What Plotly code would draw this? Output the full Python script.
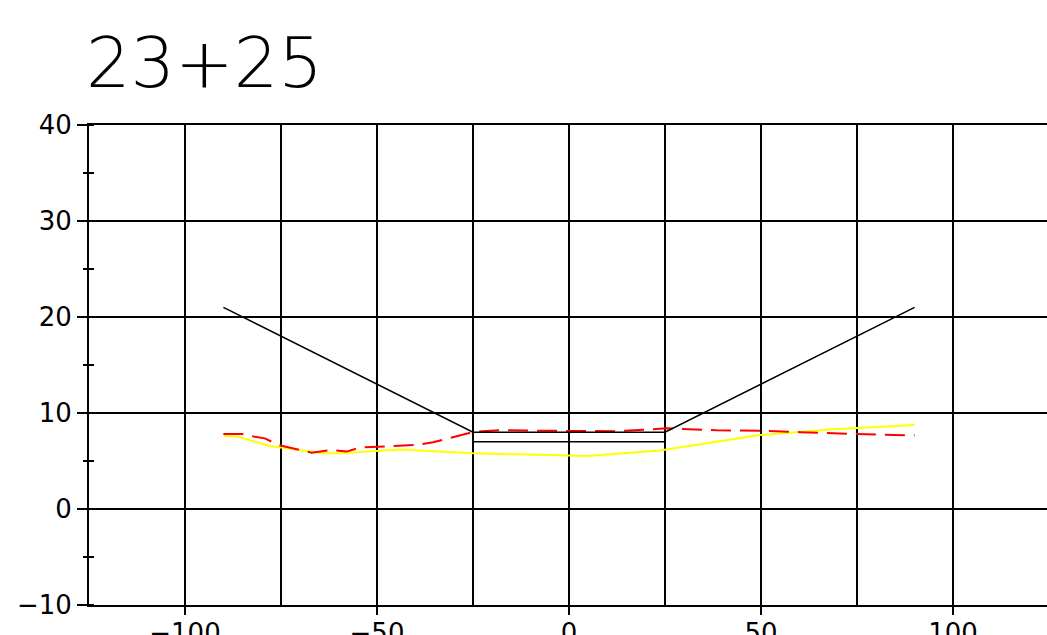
import plotly.graph_objects as go

# Design section (black)
design_x = [-90, -25, 25, 90]
design_y = [21, 8, 8, 21]
sub_x = [-25, 25]
sub_y = [7.0, 7.0]

# Red dashed surface
red_x = [-90, -85, -81.8, -79.2, -75.7, -67, -61.8, -57.9, -54.4, -47.5, -39.7, -35.4, -24.9,
         -18, -12.8, -0.6, 12.4, 25.4, 38.5, 51.5, 60.2, 68.8, 77.5, 90]
red_y = [7.8, 7.8, 7.53, 7.36, 6.67, 5.87, 6.15, 5.98, 6.4, 6.5, 6.67, 6.95, 8.03,
         8.2, 8.2, 8.13, 8.1, 8.4, 8.2, 8.13, 8.0, 7.88, 7.78, 7.67]

# Yellow surface
yel_x = [-90, -86.1, -77.9, -64, -59.6, -44, -24.9, -12.8, 4.6, 23.7, 49.7, 68.8, 90]
yel_y = [7.64, 7.53, 6.56, 5.8, 5.8, 6.2, 5.8, 5.7, 5.53, 6.1, 7.7, 8.3, 8.75]

title_text = "23+25"

fig = go.Figure()
fig.add_trace(go.Scatter(x=yel_x, y=yel_y, mode="lines",
                         line=dict(color="#ffff00", width=2), showlegend=False))
fig.add_trace(go.Scatter(x=red_x, y=red_y, mode="lines",
                         line=dict(color="#ff0000", width=2, dash="20px,9px"), showlegend=False))
fig.add_trace(go.Scatter(x=design_x, y=design_y, mode="lines",
                         line=dict(color="black", width=1.5), showlegend=False))
fig.add_trace(go.Scatter(x=sub_x, y=sub_y, mode="lines",
                         line=dict(color="black", width=1.5), showlegend=False))
# invisible trace to activate yaxis2 (minor tick crossing)
fig.add_trace(go.Scatter(x=[0], y=[0], yaxis="y2", mode="markers",
                         marker=dict(opacity=0), showlegend=False, hoverinfo="skip"))

tickfont = dict(family="DejaVu Sans", size=26, color="black")

fig.update_layout(
    width=1047, height=635,
    margin=dict(l=89, r=0, t=125, b=30),
    plot_bgcolor="white", paper_bgcolor="white",
    title=dict(text=title_text, xref="container", x=86 / 1047, xanchor="left",
               yref="container", y=1 - 38 / 635, yanchor="top",
               font=dict(family="DejaVu Sans", size=70, color="black", weight=200)),
    xaxis=dict(range=[-125, 124.48], dtick=50, tick0=0, showgrid=True,
               gridcolor="black", gridwidth=1.6, zeroline=False, automargin=False,
               showline=True, linecolor="black", linewidth=2, mirror=True,
               ticks="outside", ticklen=8, tickwidth=1.6, tickcolor="black",
               tickfont=tickfont, ticklabelstandoff=-4,
               minor=dict(dtick=25, tick0=0, showgrid=True, gridcolor="black",
                          gridwidth=1.6, ticks="")),
    yaxis=dict(range=[-10, 40], dtick=10, tick0=0, showgrid=True,
               gridcolor="black", gridwidth=1.6, zeroline=False, automargin=False,
               showline=True, linecolor="black", linewidth=2,
               ticks="outside", ticklen=10, tickwidth=1.6, tickcolor="black",
               tickfont=tickfont, ticklabelstandoff=0,
               minor=dict(dtick=5, tick0=0, ticks="inside", ticklen=5,
                          tickwidth=1.6, tickcolor="black", showgrid=False)),
    yaxis2=dict(range=[-10, 40], overlaying="y", side="left", anchor="x",
                dtick=5, tick0=0, ticks="outside", ticklen=5, tickwidth=1.6,
                tickcolor="black", showticklabels=False, showgrid=False,
                zeroline=False, showline=False, automargin=False),
)

fig.write_html("out.html", config={"displayModeBar": False},
               post_script="document.body.style.margin='0';document.body.style.overflow='hidden';")
